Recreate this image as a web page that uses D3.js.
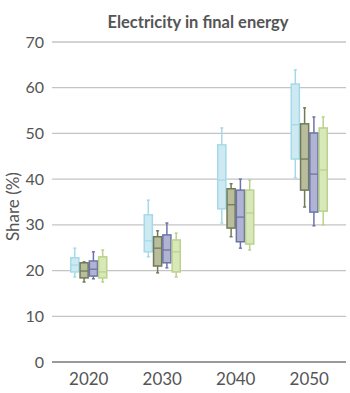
<!DOCTYPE html>
<html>
<head>
<meta charset="utf-8">
<script src="https://cdn.jsdelivr.net/npm/d3@7"></script>
<style>
  body { margin: 0; background: #fff; }
  text { font-family: Lato, "Open Sans", sans-serif; fill: #555; }
</style>
</head>
<body>
<svg id="chart" width="350" height="393"></svg>
<script>
// years on the x axis, and the four scenario series drawn inside each year
const years = ["2020", "2030", "2040", "2050"];
const seriesNames = ["s1", "s2", "s3", "s4"];
const yTicks = [0, 10, 20, 30, 40, 50, 60, 70];

// box stats per series, one entry per year: [whiskerLow, q1, median, q3, whiskerHigh]
const s1Stats = [[18.6, 19.7, 21.2, 22.8, 24.9], [23.0, 24.1, 26.5, 32.2, 35.4], [30.4, 33.5, 39.8, 47.5, 51.2], [40.3, 44.4, 51.9, 60.8, 63.9]];
const s2Stats = [[17.5, 18.4, 19.9, 21.7, 21.9], [19.5, 21.0, 24.9, 27.4, 28.7], [27.4, 29.3, 34.4, 37.9, 39.0], [33.9, 37.6, 44.4, 52.1, 55.6]];
const s3Stats = [[18.2, 18.8, 20.3, 22.1, 24.1], [20.6, 21.7, 24.5, 27.8, 30.4], [24.9, 26.3, 31.7, 37.6, 40.0], [29.8, 32.8, 41.1, 50.1, 53.6]];
const s4Stats = [[17.5, 18.4, 19.7, 23.0, 24.5], [18.6, 19.7, 24.1, 26.7, 28.2], [24.5, 25.8, 32.6, 37.6, 39.8], [30.0, 33.0, 42.0, 51.2, 53.6]];

const fills = ["#cdeaf3", "#b9bd9c", "#b0b3d2", "#d9e8b8"];
const strokes = ["#a6d9e8", "#6f7b58", "#6d73a8", "#b9d28c"];

const svg = d3.select("#chart");
const margin = {top: 42, right: 4, bottom: 31, left: 52};
const width = 350 - margin.left - margin.right;
const height = 393 - margin.top - margin.bottom;

const g = svg.append("g").attr("transform", "translate(" + margin.left + "," + margin.top + ")");

const x = d3.scaleBand().domain(years).range([0, width]);
const inner = d3.scaleBand().domain(seriesNames).range([0, 37]).paddingInner(0.02);
const y = d3.scaleLinear().domain([0, 70]).range([height, 0]);

// gridlines
g.selectAll(".grid")
  .data(yTicks)
  .join("line")
  .attr("x1", 0).attr("x2", width)
  .attr("y1", d => y(d)).attr("y2", d => y(d))
  .attr("stroke", d => d === 0 ? "#9a9a9a" : "#c4c4c4")
  .attr("stroke-width", d => d === 0 ? 2.2 : 1.3);

// y axis labels
const yAxis = d3.axisLeft(y).tickValues(yTicks).tickSize(0).tickPadding(8);
g.append("g").call(yAxis)
  .call(a => a.select(".domain").remove())
  .selectAll("text").style("font-size", "16px").style("font-family", "Lato, sans-serif").attr("fill", "#555");

// x axis labels
const xAxis = d3.axisBottom(x).tickSize(0).tickPadding(11);
g.append("g").attr("transform", "translate(0," + height + ")").call(xAxis)
  .call(a => a.select(".domain").remove())
  .selectAll("text").style("font-size", "17px").style("font-family", "Lato, sans-serif").attr("fill", "#555");

const allStats = [s1Stats, s2Stats, s3Stats, s4Stats];
const boxData = [];
allStats.forEach((stats, si) => {
  stats.forEach((s, yi) => {
    boxData.push({year: years[yi], series: seriesNames[si], si: si, lo: s[0], q1: s[1], med: s[2], q3: s[3], hi: s[4]});
  });
});

const boxes = g.selectAll(".box")
  .data(boxData)
  .join("g")
  .attr("class", "box")
  .attr("transform", d => "translate(" + (x(d.year) + x.bandwidth() / 2 - 18.5 + inner(d.series)) + ",0)");

const bw = inner.bandwidth();

boxes.append("line")
  .attr("x1", bw / 2).attr("x2", bw / 2)
  .attr("y1", d => y(d.hi)).attr("y2", d => y(d.lo))
  .attr("stroke", d => strokes[d.si]).attr("stroke-width", 1.5);

boxes.append("rect")
  .attr("x", 0.5).attr("width", bw - 1)
  .attr("y", d => y(d.q3)).attr("height", d => y(d.q1) - y(d.q3))
  .attr("fill", d => fills[d.si])
  .attr("stroke", d => strokes[d.si]).attr("stroke-width", 1.5);

boxes.append("line")
  .attr("x1", 0.5).attr("x2", bw - 0.5)
  .attr("y1", d => y(d.med)).attr("y2", d => y(d.med))
  .attr("stroke", d => strokes[d.si]).attr("stroke-width", 1.3);

// whisker caps
boxes.selectAll(".cap")
  .data(d => [d.hi, d.lo].map(v => ({v: v, si: d.si})))
  .join("line")
  .attr("x1", bw / 2 - 1.5).attr("x2", bw / 2 + 1.5)
  .attr("y1", d => y(d.v)).attr("y2", d => y(d.v))
  .attr("stroke", d => strokes[d.si]).attr("stroke-width", 1.5);

// title
svg.append("text")
  .attr("x", 198).attr("y", 28)
  .attr("text-anchor", "middle")
  .style("font-size", "16.5px").style("font-weight", "bold")
  .attr("fill", "#555")
  .text("Electricity in final energy");

// y axis title
svg.append("text")
  .attr("transform", "translate(19," + (margin.top + y(34)) + ") rotate(-90)")
  .attr("text-anchor", "middle")
  .style("font-size", "17px")
  .attr("fill", "#555")
  .text("Share (%)");
</script>
</body>
</html>
